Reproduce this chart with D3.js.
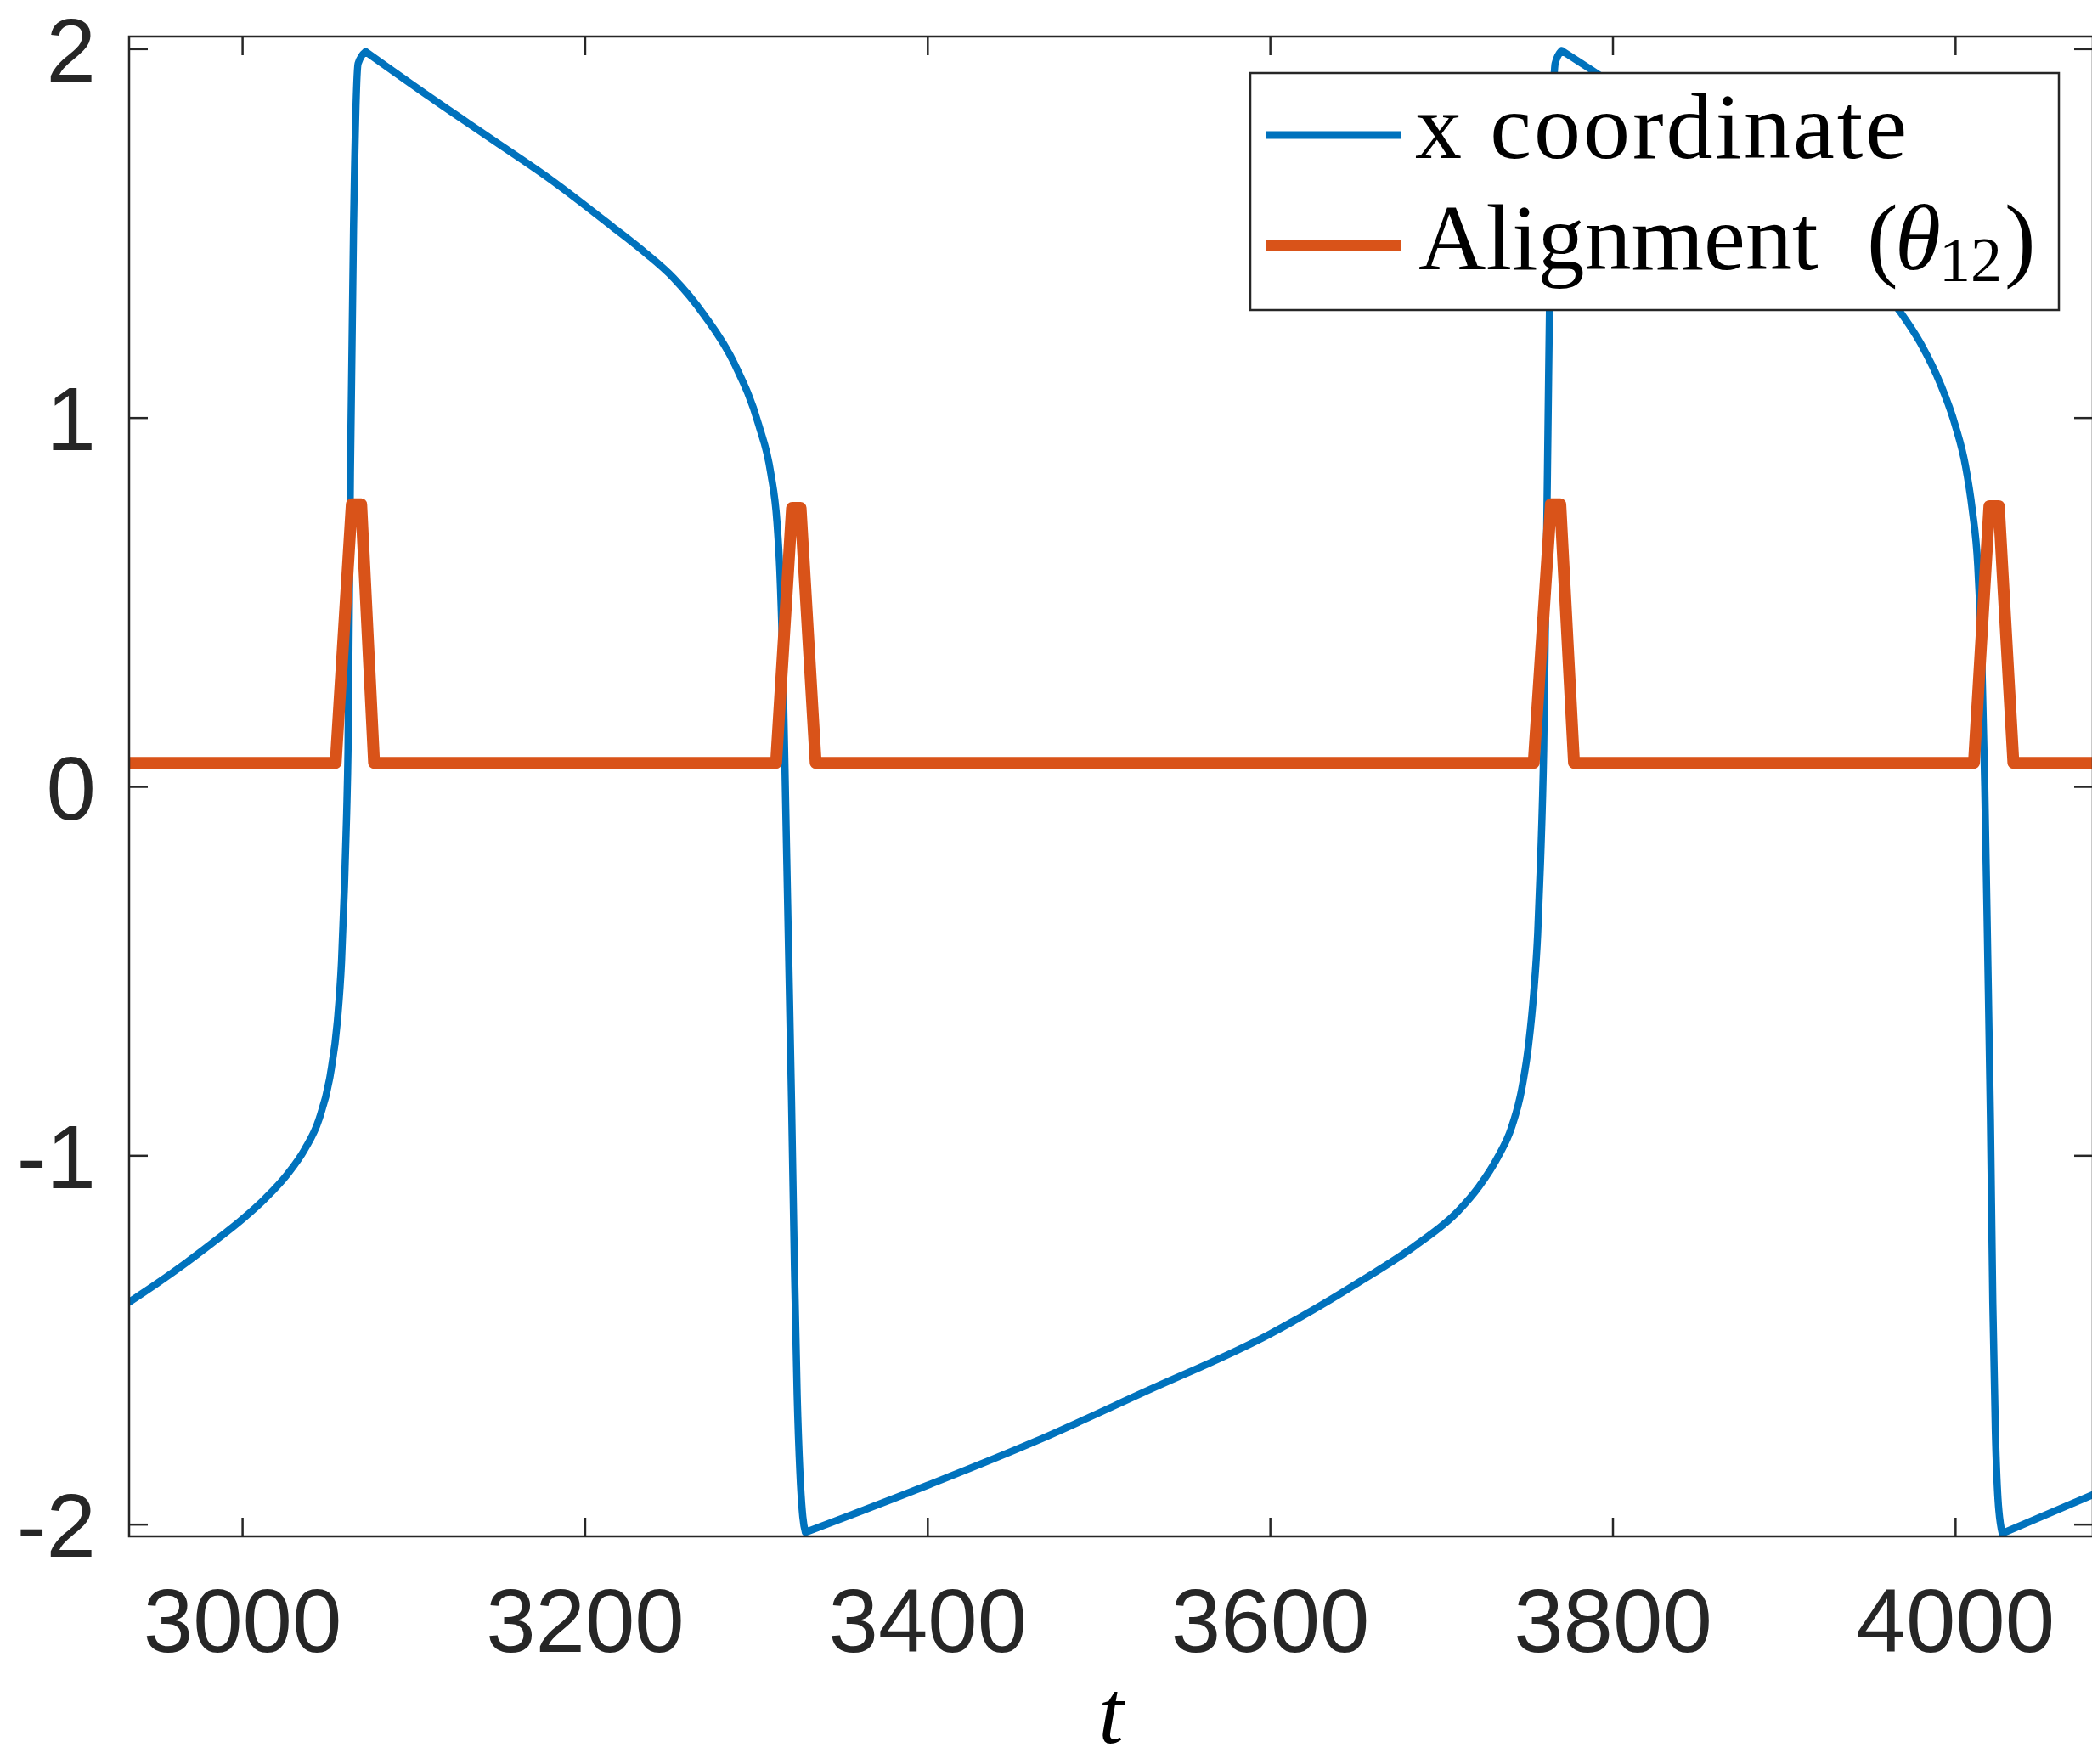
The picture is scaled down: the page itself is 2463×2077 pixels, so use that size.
<!DOCTYPE html>
<html>
<head>
<meta charset="utf-8">
<script src="https://cdn.jsdelivr.net/npm/d3@7"></script>
<style>
  html, body { margin: 0; padding: 0; background: #fff; }
  svg { display: block; }
</style>
</head>
<body>
<svg id="chart" width="2463" height="2077"></svg>
<script>
// ---------------- data ----------------
const xTicks = [3000, 3200, 3400, 3600, 3800, 4000];
const xTickLabels = ["3000", "3200", "3400", "3600", "3800", "4000"];
const yTicks = [-2, -1, 0, 1, 2];
const yTickLabels = ["-2", "-1", "0", "1", "2"];
const xDomain = [2934, 4080.4];
const yDomain = [-2.033, 2.033];

const seriesNames = ["x coordinate", "Alignment"];

// x coordinate (blue)
const tX = [
  2934.0, 2950.4, 2967.1, 2983.6, 3000.1, 3013.4, 3026.6, 3036.6, 3044.8, 3051.4,
  3055.6, 3058.0, 3059.7, 3061.0, 3061.8, 3063.2, 3065.0, 3067.7, 3072.1,
  3110.2, 3145.6, 3181.1, 3216.5, 3234.2, 3251.9, 3269.7, 3287.4, 3301.5, 3308.6,
  3312.2, 3313.9, 3315.7, 3317.3, 3319.0, 3320.7, 3322.4, 3324.0, 3325.6, 3327.3,
  3328.8,
  3399.9, 3463.3, 3526.5, 3599.3, 3653.0, 3684.8, 3710.1, 3722.0, 3733.0, 3741.0,
  3747.0, 3751.0, 3754.0, 3756.3, 3758.0, 3759.8, 3762.0, 3763.8, 3766.5, 3770.3,
  3793.4, 3810.0, 3845.0, 3881.0, 3916.0, 3934.0, 3952.0, 3967.4, 3980.0, 3991.5,
  4000.0, 4006.0, 4010.0, 4013.2, 4015.7, 4017.3, 4019.0, 4020.6, 4022.0, 4023.5,
  4025.0, 4027.5,
  4080.4
];
const vX = [
  -1.398, -1.347, -1.292, -1.234, -1.173, -1.117, -1.050, -0.983, -0.903, -0.783,
  -0.635, -0.475, -0.274, -0.074, 0.100, 0.850, 1.510, 1.960, 1.992,
  1.867, 1.755, 1.642, 1.516, 1.451, 1.378, 1.278, 1.146, 0.981, 0.849,
  0.717, 0.584, 0.320, -0.050, -0.450, -0.850, -1.300, -1.650, -1.860, -1.980,
  -2.022,
  -1.895, -1.775, -1.642, -1.486, -1.341, -1.245, -1.150, -1.085, -1.005, -0.925,
  -0.820, -0.700, -0.560, -0.400, -0.200, 0.100, 0.850, 1.510, 1.960, 1.995,
  1.925, 1.872, 1.760, 1.645, 1.520, 1.455, 1.380, 1.290, 1.200, 1.090,
  0.980, 0.870, 0.750, 0.600, 0.320, 0.000, -0.450, -0.900, -1.400, -1.750,
  -1.930, -2.025,
  -1.920
];

// Alignment theta_12 (orange)
const tA = [
  2934.0, 3054.6, 3064.0, 3069.5, 3077.0, 3311.7, 3321.0, 3326.0, 3334.8,
  3754.0, 3764.0, 3769.5, 3777.5, 4011.0, 4020.0, 4025.5, 4034.0, 4080.4
];
const vA = [
  0.064, 0.064, 0.765, 0.765, 0.064, 0.064, 0.755, 0.755, 0.064,
  0.064, 0.765, 0.765, 0.064, 0.064, 0.760, 0.760, 0.064, 0.064
];

// ---------------- drawing ----------------
const svg = d3.select("#chart");
const L = 152, R = 2464, T = 43, B = 1809;
const axisColor = "#262626";
const blue = "#0072BD", orange = "#D95319";

const x = d3.scaleLinear().domain(xDomain).range([L, R]);
const y = d3.scaleLinear().domain(yDomain).range([B, T]);

svg.append("defs").append("clipPath").attr("id", "plotclip")
  .append("rect").attr("x", L).attr("y", T).attr("width", R - L).attr("height", B - T);

const plot = svg.append("g").attr("clip-path", "url(#plotclip)");

const lineSmooth = d3.line().x(d => x(d[0])).y(d => y(d[1])).curve(d3.curveMonotoneX);
const lineLin = d3.line().x(d => x(d[0])).y(d => y(d[1]));
const dataX = tX.map((t, i) => [t, vX[i]]);
const dataA = tA.map((t, i) => [t, vA[i]]);

// split the blue series at its sharp turning points so corners stay sharp
const pieces = [];
let start = 0;
for (let i = 1; i < dataX.length - 1; i++) {
  const a = dataX[i][1] - dataX[i - 1][1], b = dataX[i + 1][1] - dataX[i][1];
  if (a * b < 0) { pieces.push(dataX.slice(start, i + 1)); start = i; }
}
pieces.push(dataX.slice(start));
const blueD = pieces.map(p => lineSmooth(p)).join("");

plot.append("path")
  .attr("d", blueD).attr("fill", "none").attr("stroke", blue)
  .attr("stroke-width", 8.5).attr("stroke-linejoin", "round").attr("stroke-linecap", "round");
plot.append("path").datum(dataA)
  .attr("d", lineLin).attr("fill", "none").attr("stroke", orange)
  .attr("stroke-width", 14).attr("stroke-linejoin", "round").attr("stroke-linecap", "butt");

// axes (ticks inside, all four sides)
const tickLen = 22;
const fontSans = "'Liberation Sans', Arial, Helvetica, sans-serif";

const gB = svg.append("g").attr("transform", `translate(0,${B})`)
  .call(d3.axisBottom(x).tickValues(xTicks).tickFormat((d, i) => xTickLabels[i])
    .tickSizeInner(-tickLen).tickSizeOuter(0));
gB.selectAll("text").attr("y", 136).attr("dy", null)
  .attr("font-size", 105).attr("font-family", fontSans).attr("fill", axisColor);

const gT = svg.append("g").attr("transform", `translate(0,${T})`)
  .call(d3.axisTop(x).tickValues(xTicks).tickFormat("")
    .tickSizeInner(-tickLen).tickSizeOuter(0));

const gL = svg.append("g").attr("transform", `translate(${L},0)`)
  .call(d3.axisLeft(y).tickValues(yTicks).tickFormat((d, i) => yTickLabels[i])
    .tickSizeInner(-tickLen).tickSizeOuter(0));
gL.selectAll("text").attr("x", -39).attr("dy", 38)
  .attr("font-size", 105).attr("font-family", fontSans).attr("fill", axisColor);

const gR = svg.append("g").attr("transform", `translate(${R},0)`)
  .call(d3.axisRight(y).tickValues(yTicks).tickFormat("")
    .tickSizeInner(-tickLen).tickSizeOuter(0));

[gB, gT, gL, gR].forEach(g => {
  g.select(".domain").remove();
  g.selectAll(".tick line").attr("stroke", axisColor).attr("stroke-width", 2.5);
});

// box
svg.append("rect").attr("x", L).attr("y", T).attr("width", R - L).attr("height", B - T)
  .attr("fill", "none").attr("stroke", axisColor).attr("stroke-width", 2.5);

// x label
const fontSerif = "'Liberation Serif', 'Times New Roman', serif";
svg.append("text").attr("x", (L + R) / 2).attr("y", 2052)
  .attr("text-anchor", "middle").attr("font-family", fontSerif)
  .attr("font-style", "italic").attr("font-size", 106).attr("fill", "#000").text("t");

// legend
const lg = svg.append("g");
lg.append("rect").attr("x", 1472).attr("y", 86).attr("width", 952).attr("height", 279)
  .attr("fill", "#fff").attr("stroke", axisColor).attr("stroke-width", 2.5);
lg.append("line").attr("x1", 1490).attr("x2", 1650).attr("y1", 159).attr("y2", 159)
  .attr("stroke", blue).attr("stroke-width", 9);
lg.append("line").attr("x1", 1490).attr("x2", 1650).attr("y1", 289).attr("y2", 289)
  .attr("stroke", orange).attr("stroke-width", 14);
lg.append("text").attr("x", 1666).attr("y", 186)
  .attr("font-family", fontSerif).attr("font-size", 110).attr("fill", "#000")
  .attr("textLength", 579).attr("lengthAdjust", "spacing")
  .text(seriesNames[0]);
lg.append("text").attr("x", 1670).attr("y", 317)
  .attr("font-family", fontSerif).attr("font-size", 110).attr("fill", "#000")
  .text(seriesNames[1]);
lg.append("text").attr("x", 2198).attr("y", 317)
  .attr("font-family", fontSerif).attr("font-size", 110).attr("fill", "#000").text("(");
lg.append("text").attr("x", 2231).attr("y", 317)
  .attr("font-family", fontSerif).attr("font-style", "italic")
  .attr("font-size", 110).attr("fill", "#000").text("θ");
lg.append("text").attr("x", 2283).attr("y", 331)
  .attr("font-family", fontSerif).attr("font-size", 74).attr("fill", "#000").text("12");
lg.append("text").attr("x", 2360).attr("y", 317)
  .attr("font-family", fontSerif).attr("font-size", 110).attr("fill", "#000").text(")");
</script>
</body>
</html>
